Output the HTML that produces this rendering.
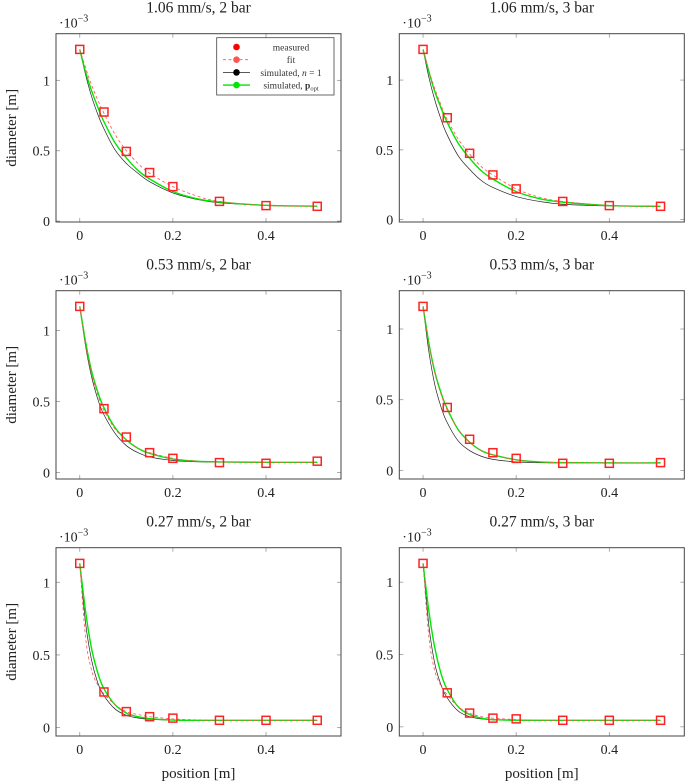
<!DOCTYPE html>
<html><head><meta charset="utf-8"><style>
html,body{margin:0;padding:0;background:#fff}
svg{display:block;font-family:"Liberation Serif",serif}
</style></head><body>
<svg id="chart" width="685" height="782" viewBox="0 0 685 782" xmlns="http://www.w3.org/2000/svg"></svg>
<script>
const titles = ["1.06 mm/s, 2 bar","1.06 mm/s, 3 bar","0.53 mm/s, 2 bar","0.53 mm/s, 3 bar","0.27 mm/s, 2 bar","0.27 mm/s, 3 bar"];
const measX = [0,0.052,0.1,0.15,0.2,0.3,0.4,0.51];
const measured = [
 [1.22,0.775,0.495,0.345,0.245,0.14,0.11,0.105],
 [1.22,0.73,0.475,0.32,0.22,0.13,0.1,0.095],
 [1.17,0.45,0.25,0.14,0.10,0.07,0.065,0.08],
 [1.16,0.445,0.22,0.125,0.085,0.05,0.05,0.055],
 [1.13,0.245,0.11,0.075,0.065,0.05,0.05,0.05],
 [1.13,0.235,0.095,0.06,0.055,0.045,0.045,0.045]
];
const curveX = [0,0.0125,0.025,0.0375,0.05,0.075,0.1,0.125,0.15,0.2,0.25,0.3,0.4,0.51];
const simOpt = [
 [1.22,1.06,0.93,0.82,0.72,0.56,0.45,0.36,0.30,0.21,0.16,0.135,0.112,0.106],
 [1.22,1.06,0.92,0.81,0.71,0.55,0.44,0.35,0.29,0.20,0.15,0.125,0.10,0.095],
 [1.17,0.92,0.72,0.58,0.47,0.32,0.23,0.17,0.135,0.095,0.08,0.075,0.072,0.072],
 [1.16,0.90,0.70,0.56,0.45,0.29,0.20,0.14,0.11,0.075,0.06,0.055,0.053,0.053],
 [1.13,0.80,0.55,0.39,0.28,0.16,0.10,0.075,0.062,0.052,0.05,0.05,0.05,0.05],
 [1.13,0.80,0.55,0.38,0.27,0.14,0.085,0.06,0.05,0.046,0.045,0.045,0.045,0.045]
];
const simN1 = [
 [1.22,1.04,0.89,0.77,0.67,0.51,0.41,0.34,0.28,0.20,0.155,0.13,0.112,0.106],
 [1.22,1.02,0.86,0.73,0.62,0.46,0.36,0.28,0.23,0.165,0.13,0.11,0.098,0.095],
 [1.17,0.89,0.68,0.53,0.42,0.28,0.19,0.14,0.11,0.085,0.076,0.073,0.072,0.072],
 [1.16,0.84,0.61,0.46,0.35,0.21,0.14,0.10,0.078,0.06,0.055,0.053,0.053,0.053],
 [1.13,0.72,0.47,0.32,0.23,0.13,0.085,0.066,0.057,0.051,0.05,0.05,0.05,0.05],
 [1.13,0.70,0.44,0.30,0.21,0.11,0.07,0.055,0.048,0.045,0.045,0.045,0.045,0.045]
];
const fitVals = [
 [1.22,1.09,0.97,0.87,0.78,0.62,0.50,0.41,0.34,0.245,0.18,0.14,0.11,0.105],
 [1.22,1.07,0.94,0.83,0.73,0.58,0.47,0.38,0.32,0.22,0.16,0.13,0.10,0.095],
 [1.17,0.90,0.70,0.56,0.45,0.31,0.23,0.17,0.14,0.10,0.08,0.075,0.072,0.072],
 [1.16,0.89,0.69,0.55,0.44,0.29,0.20,0.14,0.11,0.075,0.06,0.055,0.053,0.053],
 [1.13,0.62,0.40,0.30,0.24,0.16,0.11,0.09,0.075,0.06,0.053,0.05,0.05,0.05],
 [1.13,0.62,0.39,0.29,0.23,0.14,0.095,0.07,0.06,0.05,0.046,0.045,0.045,0.045]
];
const xTicks = [0,0.2,0.4];
const xTickLabels = ["0","0.2","0.4"];
const yTicks = [0,0.5,1];
const yTickLabels = ["0","0.5","1"];

const NS="http://www.w3.org/2000/svg";
const svg=document.getElementById('chart');
function mk(tag,attrs,parent){const e=document.createElementNS(NS,tag);for(const k in attrs)e.setAttribute(k,attrs[k]);(parent||svg).appendChild(e);return e;}
function smooth(pts){let d="M"+pts[0][0].toFixed(2)+","+pts[0][1].toFixed(2);
 for(let i=0;i<pts.length-1;i++){const p0=pts[Math.max(0,i-1)],p1=pts[i],p2=pts[i+1],p3=pts[Math.min(pts.length-1,i+2)];
  const c1=[p1[0]+(p2[0]-p0[0])/6,p1[1]+(p2[1]-p0[1])/6],c2=[p2[0]-(p3[0]-p1[0])/6,p2[1]-(p3[1]-p1[1])/6];
  d+=" C"+c1[0].toFixed(2)+","+c1[1].toFixed(2)+" "+c2[0].toFixed(2)+","+c2[1].toFixed(2)+" "+p2[0].toFixed(2)+","+p2[1].toFixed(2);}
 return d;}

const colLeft=[56,399.3], W=285, H=188.3, rowTop=[33.7,290.7,547.7];
const xmin=-0.051, xmax=0.561;
for(let p=0;p<6;p++){
 const c=p%2, r=Math.floor(p/2);
 const L=colLeft[c], T=rowTop[r], B=T+H, R=L+W;
 const mn=Math.min(...measured[p]), mx=Math.max(...measured[p]), rg=mx-mn;
 const ymin=mn-0.1*rg, ymax=mx+0.1*rg;
 const sx=v=>L+(v-xmin)/(xmax-xmin)*W;
 const sy=v=>B-(v-ymin)/(ymax-ymin)*H;
 const g=mk('g',{});
 
 
 const t=mk('text',{x:(L+R)/2,y:T-21,'text-anchor':'middle','font-size':15.5,fill:'#222'},g);t.textContent=titles[p];
 
 
 const ex=mk('text',{x:L+3,y:T-6,'font-size':14,fill:'#222'},g);
 
 
 ex.innerHTML='·10<tspan dy="-6" font-size="10">−3</tspan>';
 xTicks.forEach((v,i)=>{const X=sx(v);
  mk('line',{x1:X,x2:X,y1:B,y2:B-4,stroke:'#999','stroke-width':0.8},g);
  mk('line',{x1:X,x2:X,y1:T,y2:T+4,stroke:'#999','stroke-width':0.8},g);
  const tl=mk('text',{x:X,y:B+18,'text-anchor':'middle','font-size':14,fill:'#222'},g);tl.textContent=xTickLabels[i];
  
  });
 yTicks.forEach((v,i)=>{const Y=sy(v);
  mk('line',{x1:L,x2:L+4,y1:Y,y2:Y,stroke:'#999','stroke-width':0.8},g);
  mk('line',{x1:R,x2:R-4,y1:Y,y2:Y,stroke:'#999','stroke-width':0.8},g);
  const tl=mk('text',{x:L-6,y:Y+5,'text-anchor':'end','font-size':14,fill:'#222'},g);tl.textContent=yTickLabels[i];
  
  });
 const bl=mk('path',{d:smooth(curveX.map((x,i)=>[sx(x),sy(simN1[p][i])])),fill:'none',stroke:'#222','stroke-width':0.7},g);
 
 
 const gl=mk('path',{d:smooth(curveX.map((x,i)=>[sx(x),sy(simOpt[p][i])])),fill:'none',stroke:'#00e600','stroke-width':1.4},g);
 
 
 const fl=mk('path',{d:smooth(curveX.map((x,i)=>[sx(x),sy(fitVals[p][i])])),fill:'none',stroke:'#f55','stroke-width':0.8,'stroke-dasharray':'3,2.5'},g);
 
 
 measX.forEach((x,i)=>{const X=sx(x),Y=sy(measured[p][i]);
  const m=mk('rect',{x:X-4,y:Y-4,width:8,height:8,fill:'none',stroke:'#f22','stroke-width':1.5},g);
  
  });
 mk('rect',{x:L,y:T,width:W,height:H,fill:'none',stroke:'#444','stroke-width':1},g);
 if(c===0){const yl=mk('text',{x:0,y:0,transform:`translate(${L-40},${(T+B)/2}) rotate(-90)`,'text-anchor':'middle','font-size':15,fill:'#222'},g);yl.textContent='diameter [m]';
  
  }
 if(r===2){const xl=mk('text',{x:(L+R)/2,y:778,'text-anchor':'middle','font-size':15,fill:'#222'},g);xl.textContent='position [m]';
  
  }
}
// legend
const lg=mk('g',{});


mk('rect',{x:216.7,y:37.7,width:117.3,height:57.3,fill:'#fff',stroke:'#444','stroke-width':0.8},lg);
const entries=[["measured",null,"#f00"],["fit","dash","#f55"],["simulated, ","#222","#000"],["simulated, ","#00e600","#00e600"]];
entries.forEach((e,i)=>{const Y=47+i*12.7;
 const it=mk('g',{},lg);
 
 
 if(e[1]==="dash")mk('line',{x1:223,x2:250,y1:Y,y2:Y,stroke:'#f55','stroke-width':0.8,'stroke-dasharray':'3,2.5'},it);
 else if(e[1])mk('line',{x1:223,x2:250,y1:Y,y2:Y,stroke:e[1],'stroke-width':i===3?1.4:0.8},it);
 mk('circle',{cx:236.5,cy:Y,r:3.3,fill:e[2]},it);
 const tx=mk('text',{x:291,y:Y+3.5,'text-anchor':'middle','font-size':9.5,fill:'#333'},it);
 if(i===2)tx.innerHTML='simulated, <tspan font-style="italic">n</tspan> = 1';
 else if(i===3)tx.innerHTML='simulated, <tspan font-weight="bold">p</tspan><tspan font-size="6.5" dy="2">opt</tspan>';
 else tx.textContent=e[0];
});
</script>
</body></html>
